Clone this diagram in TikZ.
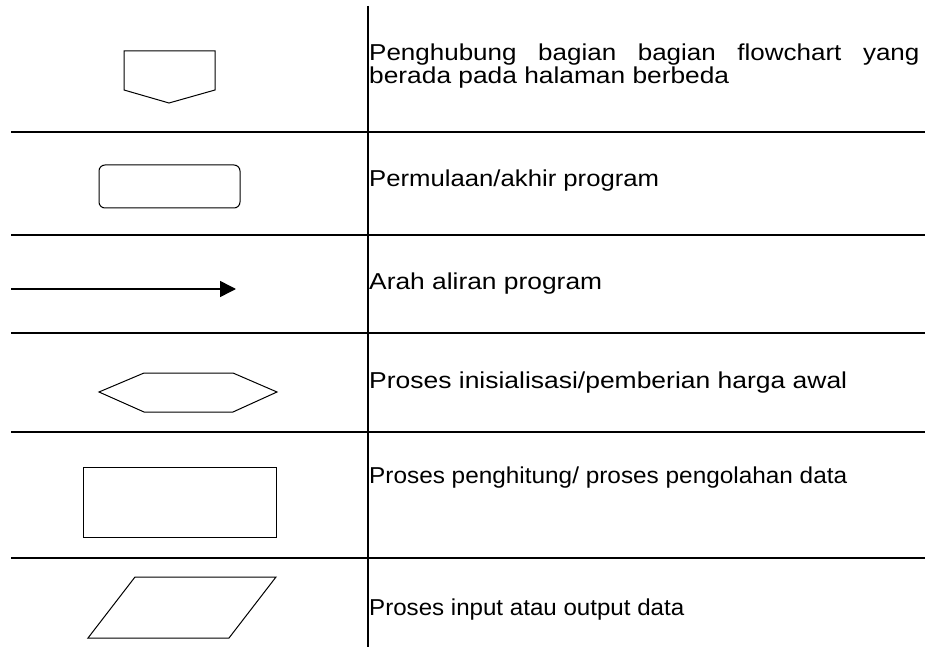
\documentclass[tikz,border=0pt]{standalone}
\usepackage{fontspec}
\usepackage{graphicx}
\setmainfont{Liberation Sans}
\usetikzlibrary{arrows.meta}
\begin{document}
\begin{tikzpicture}[x=1pt,y=-1pt,
  rule/.style={line width=2pt,black},
  sym/.style={line width=1pt,black},
  flow/.style={line width=1.5pt,black,-{Triangle[length=16pt,width=16pt]}},
  lbl/.style={anchor=base west,inner sep=0pt,font=\fontsize{23}{25}\selectfont}]
\useasboundingbox (0,0) rectangle (927,647);
% table rules
\draw[rule] (368,6) -- (368,647);
\foreach \yy in {132,235,333,432,558}
  \draw[rule] (11,\yy) -- (925,\yy);
% off-page connector
\draw[sym] (124,51) -- (215,51) -- (215,90) -- (169,103) -- (124,90) -- cycle;
% terminator
\draw[sym,rounded corners=6pt] (99,165) rectangle (240,208);
% flow arrow
\coordinate (a1) at (11,289);
\coordinate (a2) at (236,289);
\draw[flow] (a1) -- (a2);
% preparation hexagon
\draw[sym] (99,392) -- (144,373) -- (233,373) -- (277,392) -- (233,412) -- (144,412) -- cycle;
% process
\draw[sym] (83,467) rectangle (276,537);
% input/output
\draw[sym] (135,577) -- (276,577) -- (229,638) -- (88,638) -- cycle;
% labels
\node[lbl] (t1a) at (369,61) {\scalebox{1.13}[1]{\makebox[487pt][s]{Penghubung bagian bagian flowchart yang}}};
\node[lbl] (t1b) at (369,84) {\resizebox{360pt}{\height}{berada pada halaman berbeda}};
\node[lbl] (t2) at (369,187) {\resizebox{290pt}{\height}{Permulaan/akhir program}};
\node[lbl] (t3) at (369,290) {\resizebox{233pt}{\height}{Arah aliran program}};
\node[lbl] (t4) at (369,388) {\resizebox{478pt}{\height}{Proses inisialisasi/pemberian harga awal}};
\node[lbl] (t5) at (369,483) {\resizebox{478pt}{\height}{Proses penghitung/ proses pengolahan data}};
\node[lbl] (t6) at (369,615) {\resizebox{315pt}{\height}{Proses input atau output data}};
\end{tikzpicture}
\end{document}
